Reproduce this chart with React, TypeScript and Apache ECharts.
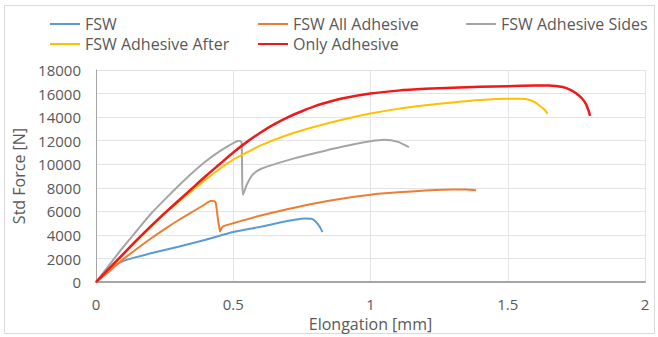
import React, { useEffect, useRef } from "react";
import * as echarts from "echarts";

const seriesNames = ["FSW", "FSW All Adhesive", "FSW Adhesive Sides", "FSW Adhesive After", "Only Adhesive"];
const xTicks = [0, 0.5, 1, 1.5, 2];
const yTicks = [0, 2000, 4000, 6000, 8000, 10000, 12000, 14000, 16000, 18000];

const fsw: number[][] = [
  [0, 0], [0.03, 700], [0.06, 1300], [0.09, 1700], [0.12, 1950], [0.16, 2200], [0.2, 2450],
  [0.3, 3000], [0.4, 3600], [0.5, 4250], [0.6, 4700], [0.67, 5050], [0.72, 5270], [0.76, 5400],
  [0.785, 5370], [0.8, 5150], [0.815, 4700], [0.825, 4250],
];
const fswAll: number[][] = [
  [0, 0], [0.05, 950], [0.1, 1950], [0.15, 2850], [0.2, 3700], [0.25, 4500], [0.3, 5250],
  [0.35, 5950], [0.39, 6500], [0.42, 6900], [0.435, 6800], [0.44, 6100], [0.445, 5200],
  [0.45, 4550], [0.452, 4300], [0.458, 4600], [0.465, 4750], [0.5, 5000], [0.6, 5650],
  [0.7, 6200], [0.8, 6700], [0.9, 7100], [1.0, 7420], [1.1, 7620], [1.2, 7770], [1.3, 7860],
  [1.35, 7860], [1.385, 7800],
];
const fswSides: number[][] = [
  [0, 0], [0.05, 1500], [0.1, 3000], [0.15, 4400], [0.2, 5800], [0.25, 7000], [0.3, 8150],
  [0.35, 9250], [0.4, 10250], [0.45, 11100], [0.5, 11800], [0.52, 12000], [0.53, 11900],
  [0.532, 10000], [0.535, 7400], [0.55, 8300], [0.57, 9100], [0.6, 9600], [0.7, 10350],
  [0.8, 10950], [0.9, 11500], [1.0, 11950], [1.05, 12080], [1.1, 11900], [1.14, 11450],
];
const fswAfter: number[][] = [
  [0, 0], [0.05, 1200], [0.1, 2400], [0.15, 3550], [0.2, 4700], [0.25, 5800], [0.3, 6800],
  [0.35, 7750], [0.4, 8700], [0.45, 9600], [0.5, 10400], [0.55, 11000], [0.6, 11600],
  [0.7, 12500], [0.8, 13200], [0.9, 13800], [1.0, 14300], [1.1, 14700], [1.2, 15000],
  [1.3, 15250], [1.4, 15450], [1.5, 15550], [1.55, 15550], [1.58, 15450], [1.6, 15250],
  [1.62, 14900], [1.635, 14600], [1.645, 14300],
];
const onlyAdhesive: number[][] = [
  [0, 0], [0.05, 1200], [0.1, 2400], [0.15, 3600], [0.2, 4750], [0.25, 5850], [0.3, 6900],
  [0.35, 7950], [0.4, 9000], [0.45, 10000], [0.5, 11000], [0.55, 11900], [0.6, 12700],
  [0.65, 13400], [0.7, 14000], [0.75, 14500], [0.8, 14950], [0.85, 15300], [0.9, 15600],
  [1.0, 16000], [1.1, 16250], [1.2, 16400], [1.3, 16500], [1.4, 16580], [1.5, 16630],
  [1.6, 16680], [1.65, 16680], [1.7, 16550], [1.73, 16300], [1.75, 16000], [1.77, 15600],
  [1.785, 15100], [1.795, 14500], [1.8, 14100],
];
const seriesData = [fsw, fswAll, fswSides, fswAfter, onlyAdhesive];
const colors = ["#5B9BD5", "#ED7D31", "#A5A5A5", "#FFC000", "#F01818"];
const widths = [2, 2, 2, 2, 2.5];

const FONT = "'Open Sans', sans-serif";

export default function App() {
  const ref = useRef<HTMLDivElement>(null);
  useEffect(() => {
    if (!ref.current) return;
    const chart = echarts.init(ref.current, undefined, { renderer: "svg" });
    const legendPos = [
      { left: 50, top: 16 },
      { left: 258, top: 16 },
      { left: 466, top: 16 },
      { left: 50, top: 36 },
      { left: 258, top: 36 },
    ];
    chart.setOption({
      animation: false,
      color: colors,
      textStyle: { fontFamily: FONT },
      graphic: [
        {
          type: "rect",
          shape: { x: 4.5, y: 5.5, width: 650, height: 328 },
          style: { fill: "none", stroke: "#d9d9d9", lineWidth: 1 },
          silent: true,
        },
      ],
      legend: seriesNames.map((n, i) => ({
        data: [n],
        left: legendPos[i].left,
        top: legendPos[i].top,
        padding: 0,
        icon: "rect",
        itemWidth: 30,
        itemHeight: 2,
        textStyle: { fontSize: 16, color: "#595959", fontFamily: FONT },
        selectedMode: false,
      })),
      grid: { left: 96, right: 13, top: 70, bottom: 54 },
      xAxis: {
        type: "value",
        min: xTicks[0],
        max: xTicks[xTicks.length - 1],
        interval: 0.5,
        name: "Elongation [mm]",
        nameLocation: "middle",
        nameGap: 33,
        nameTextStyle: { fontSize: 16, color: "#595959" },
        axisLine: { lineStyle: { color: "#a6a6a6", width: 2 } },
        axisTick: { show: false },
        axisLabel: { fontSize: 15, color: "#595959", margin: 14, formatter: (v: number) => String(v) },
        splitLine: { show: true, lineStyle: { color: "#e3e3e3", width: 1 } },
      },
      yAxis: {
        type: "value",
        min: yTicks[0],
        max: yTicks[yTicks.length - 1],
        interval: 2000,
        name: "Std Force [N]",
        nameLocation: "middle",
        nameGap: 64,
        nameTextStyle: { fontSize: 16, color: "#595959" },
        axisLine: { show: true, lineStyle: { color: "#a6a6a6", width: 1 } },
        axisTick: { show: false },
        axisLabel: { fontSize: 15, color: "#595959", margin: 15, formatter: (v: number) => String(v) },
        splitLine: { show: true, lineStyle: { color: "#e3e3e3", width: 1 } },
      },
      series: seriesNames.map((n, i) => ({
        name: n,
        type: "line",
        data: seriesData[i],
        showSymbol: false,
        symbol: "none",
        smooth: 0.2,
        lineStyle: { color: colors[i], width: widths[i] },
        itemStyle: { color: colors[i] },
      })),
    });
    return () => chart.dispose();
  }, []);
  return (
    <div
      ref={ref}
      style={{ position: "fixed", left: 0, top: 0, width: 658, height: 337, background: "#fff" }}
    />
  );
}
